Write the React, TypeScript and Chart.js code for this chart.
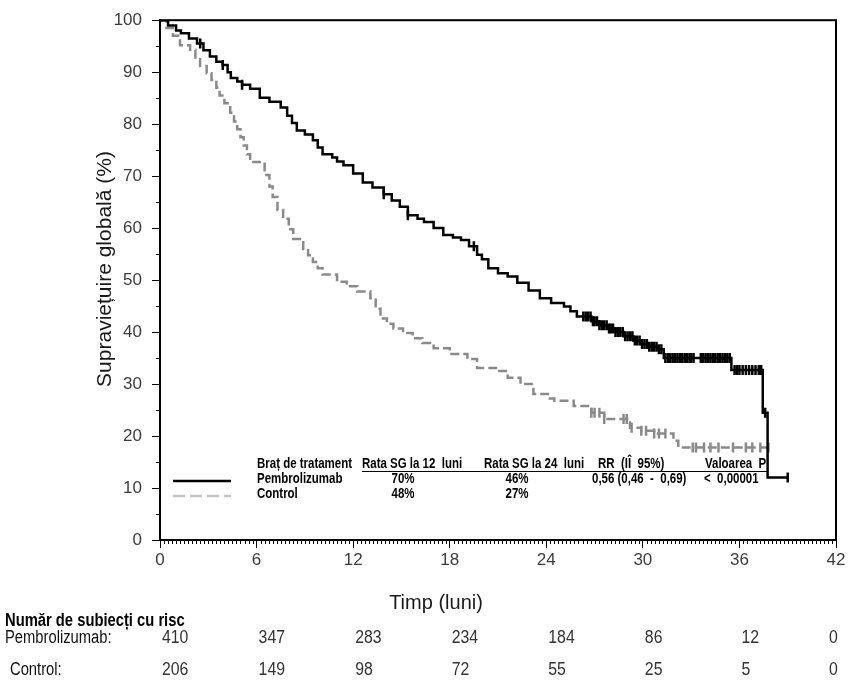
import React, { useEffect, useRef } from "react";
import { Chart, registerables } from "chart.js";

Chart.register(...registerables);

// ---------- DATA ----------
const xTicks = [0, 6, 12, 18, 24, 30, 36, 42];

const pembroTimes = [
  0, 0.5, 1.0, 1.3, 1.8, 2.3, 2.7, 3.1, 3.5, 3.9, 4.2, 4.4, 4.8, 5.1, 5.6, 6.2, 6.8, 7.5, 7.9, 8.2, 8.5,
  9.0, 9.5, 9.8, 10.1, 10.7, 11.0, 11.4, 12.0, 12.6, 13.2, 13.9, 14.4, 14.9, 15.4, 16.0, 16.4, 17.0,
  17.6, 18.2, 18.7, 19.2, 19.7, 20.0, 20.4, 21.0, 21.6, 22.2, 22.9, 23.6, 24.3, 25.1, 25.5, 25.9, 26.8,
  27.3, 27.8, 28.3, 28.8, 29.4, 29.9, 30.4, 30.9, 31.3, 35.5, 37.45, 37.75, 39.0,
];
const pembroSurv = [
  100, 99, 98, 97.5, 96.5, 95.5, 94.2, 93, 92, 91.4, 90, 88.9, 88.2, 87.6, 86.8, 85.1, 84.3, 83.2, 81.6, 80.2, 78.8,
  78, 76.9, 75.5, 74.2, 73.6, 72.8, 72.1, 70.5, 68.8, 67.8, 66.5, 65.3, 64.1, 62.5, 61.8, 61.2, 60,
  58.7, 58.2, 57.7, 56.5, 54.9, 54, 52.3, 51.3, 50.7, 49.5, 48, 46.5, 45.6, 44.9, 44, 43, 42.1,
  41.3, 40.7, 40, 39.2, 38.4, 37.7, 37.2, 36.7, 35.0, 32.7, 24.5, 12, 12,
];

const controlTimes = [
  0, 0.4, 0.8, 1.24, 1.87, 2.2, 2.49, 2.9, 3.2, 3.5, 3.7, 4.0, 4.36, 4.6, 4.8, 5.0, 5.2, 5.4, 5.6, 6.5,
  6.8, 7.0, 7.3, 7.65, 8.0, 8.28, 8.9, 9.2, 9.5, 9.8, 10.1, 11.0, 11.6, 12.26, 13.07, 13.4, 13.7, 14.1,
  14.5, 15.1, 15.7, 16.3, 17.0, 18.0, 19.1, 19.7, 21.0, 21.6, 22.4, 23.2, 24.1, 24.5, 25.7, 26.8, 27.6,
  29.2, 29.9, 30.7, 31.9, 32.2, 38.0,
];
const controlSurv = [
  100, 98.5, 97, 95.2, 94.3, 92.5, 91.2, 89.8, 88.5, 87, 85.5, 84, 82.2, 80.5, 79, 77.5, 75.9, 74.2, 72.7, 70.2,
  68, 66, 63.5, 61.8, 59.8, 57.9, 56, 54.8, 53.5, 52.3, 51.1, 49.7, 48.8, 47.8, 46.5, 44.5, 42.6, 41.6,
  40.7, 39.8, 38.8, 37.9, 36.9, 35.8, 34.8, 33.1, 32.5, 31.2, 30, 28.1, 27.2, 26.8, 25.8, 24.5, 23.3,
  21.6, 21.0, 20.5, 19.1, 17.8, 17.8,
];

const pembroCensorTimes = [
  2.5, 3.9, 5.1, 13.9, 15.4, 19.5,
  26.3, 26.45, 26.6, 26.75, 26.9, 27.0, 27.15, 27.3, 27.45, 27.6, 27.75, 27.9, 28.0, 28.15, 28.3, 28.45,
  28.6, 28.75, 28.9, 29.05, 29.2, 29.35, 29.5, 29.65, 29.8, 29.95, 30.1, 30.25, 30.4, 30.55, 30.7, 30.85,
  31.0, 31.15, 31.4, 31.55, 31.7, 31.85, 32.0, 32.15, 32.3, 32.45, 32.6, 32.75, 32.9, 33.0, 33.15, 33.6,
  33.75, 33.9, 34.05, 34.2, 34.35, 34.5, 34.65, 34.8, 34.95, 35.1, 35.25, 35.4, 35.7, 35.85, 36.0, 36.2,
  36.4, 36.6, 36.8, 37.0, 37.2, 37.35, 37.6, 39.0,
];
const controlCensorTimes = [
  26.8, 27.0, 27.3, 27.6, 28.8, 29.0, 29.3, 29.9, 30.2, 30.7, 31.0, 31.4, 33.1, 33.3, 33.8, 34.2, 34.7,
  35.6, 36.4, 36.8, 37.3, 37.8,
];

const riskPembro = [410, 347, 283, 234, 184, 86, 12, 0];
const riskControl = [206, 149, 98, 72, 55, 25, 5, 0];

const legendHeader = ["Braț de tratament", "Rata SG la 12  luni", "Rata SG la 24  luni", "RR  (IÎ  95%)", "Valoarea  P"];
const legendPembro = ["Pembrolizumab", "70%", "46%", "0,56 (0,46  -  0,69)", "<  0,00001"];
const legendControl = ["Control", "48%", "27%", "", ""];

const riskTitle = "Număr de subiecți cu risc";
const riskLabels = ["Pembrolizumab:", "Control:"];
const yTitle = "Supraviețuire globală (%)";
const xTitle = "Timp (luni)";

// ---------- helpers ----------
function stepAt(times: number[], surv: number[], t: number) {
  let v = surv[0];
  for (let i = 0; i < times.length; i++) {
    if (times[i] <= t) v = surv[i];
  }
  return v;
}
const toPts = (ts: number[], vs: number[]) => ts.map((t, i) => ({ x: t, y: vs[i] }));
const censorPts = (cs: number[], ts: number[], vs: number[]) => cs.map((t) => ({ x: t, y: stepAt(ts, vs, t) }));

const BLACK = "#000000";
const GRAY = "#8a8a8a";
const SANS = '"Liberation Sans", Arial, sans-serif';

function narrowText(
  ctx: CanvasRenderingContext2D,
  text: string,
  x: number,
  y: number,
  align: CanvasTextAlign,
  font: string,
  sx = 0.82
) {
  ctx.save();
  ctx.font = font;
  ctx.textAlign = align;
  ctx.textBaseline = "middle";
  ctx.translate(x, y);
  ctx.scale(sx, 1);
  ctx.fillText(text, 0, 0);
  ctx.restore();
}

const decorPlugin = {
  id: "decor",
  afterDraw(chart: any) {
    const ctx = chart.ctx as CanvasRenderingContext2D;
    const { left, right, top, bottom } = chart.chartArea;
    const xs = chart.scales.x;
    const ys = chart.scales.y;
    ctx.save();

    // frame
    ctx.strokeStyle = "#000";
    ctx.lineWidth = 2;
    ctx.strokeRect(left, top, right - left, bottom - top);

    // minor ticks
    ctx.lineWidth = 1;
    ctx.beginPath();
    for (let k = 1; k < 42 * 4; k++) {
      const v = k / 4;
      if (v % 6 === 0) continue;
      const px = Math.round(xs.getPixelForValue(v)) + 0.5;
      ctx.moveTo(px, bottom);
      ctx.lineTo(px, bottom + 4);
    }
    for (let v = 5; v < 100; v += 10) {
      const py = Math.round(ys.getPixelForValue(v)) + 0.5;
      ctx.moveTo(left, py);
      ctx.lineTo(left - 4, py);
    }
    ctx.stroke();

    // axis titles
    ctx.fillStyle = "#1a1a1a";
    ctx.font = `20px ${SANS}`;
    ctx.textAlign = "center";
    ctx.textBaseline = "middle";
    ctx.fillText(xTitle, 436, 603);
    ctx.save();
    ctx.font = `21px ${SANS}`;
    ctx.translate(105, 269);
    ctx.rotate(-Math.PI / 2);
    ctx.fillText(yTitle, 0, 0);
    ctx.restore();

    // legend table
    ctx.fillStyle = "#000";
    const lf = `bold 14px ${SANS}`;
    const rowY = [464, 479, 494];
    const colX = [257, 362, 484, 598, 705];
    legendHeader.forEach((s, i) => narrowText(ctx, s, colX[i], rowY[0], "left", lf));
    const valX = [257, 403, 517, 592, 704];
    const valAlign: CanvasTextAlign[] = ["left", "center", "center", "left", "left"];
    [legendPembro, legendControl].forEach((row, r) => {
      row.forEach((s, i) => narrowText(ctx, s, valX[i], rowY[r + 1], valAlign[i], lf));
    });
    ctx.strokeStyle = "#000";
    ctx.lineWidth = 1;
    ctx.beginPath();
    ctx.moveTo(362, 471.5);
    ctx.lineTo(767, 471.5);
    ctx.stroke();
    // legend line samples
    ctx.lineWidth = 2.5;
    ctx.strokeStyle = BLACK;
    ctx.beginPath();
    ctx.moveTo(173, 481);
    ctx.lineTo(231, 481);
    ctx.stroke();
    ctx.strokeStyle = "#c4c4c4";
    ctx.setLineDash([12, 5]);
    ctx.beginPath();
    ctx.moveTo(173, 496);
    ctx.lineTo(231, 496);
    ctx.stroke();
    ctx.setLineDash([]);

    // risk table
    ctx.fillStyle = "#000";
    narrowText(ctx, riskTitle, 5, 621, "left", `bold 18px ${SANS}`);
    ctx.fillStyle = "#111";
    narrowText(ctx, riskLabels[0], 5, 638, "left", `18px ${SANS}`);
    narrowText(ctx, riskLabels[1], 10, 670, "left", `18px ${SANS}`);
    ctx.fillStyle = "#333";
    xTicks.forEach((t, i) => {
      const px = Math.min(xs.getPixelForValue(t) + 2, 829);
      narrowText(ctx, String(riskPembro[i]), px, 638, "left", `18px ${SANS}`, 0.88);
      narrowText(ctx, String(riskControl[i]), px, 670, "left", `18px ${SANS}`, 0.88);
    });

    ctx.restore();
  },
};

export default function App() {
  const ref = useRef<HTMLCanvasElement | null>(null);

  useEffect(() => {
    document.body.style.margin = "0";
    if (!ref.current) return;
    const chart = new Chart(ref.current, {
      type: "line",
      data: {
        datasets: [
          {
            label: "Pembrolizumab",
            data: toPts(pembroTimes, pembroSurv),
            borderColor: BLACK,
            borderWidth: 2.5,
            pointRadius: 0,
            stepped: "before",
            fill: false,
          },
          {
            label: "Control",
            data: toPts(controlTimes, controlSurv),
            borderColor: GRAY,
            borderWidth: 2.5,
            borderDash: [9, 4],
            pointRadius: 0,
            stepped: "before",
            fill: false,
          },
          {
            label: "Pembro censored",
            type: "scatter",
            data: censorPts(pembroCensorTimes, pembroTimes, pembroSurv),
            showLine: false,
            pointStyle: "line",
            rotation: 90,
            radius: 5,
            borderColor: BLACK,
            borderWidth: 2.5,
          } as any,
          {
            label: "Control censored",
            type: "scatter",
            data: censorPts(controlCensorTimes, controlTimes, controlSurv),
            showLine: false,
            pointStyle: "line",
            rotation: 90,
            radius: 5,
            borderColor: GRAY,
            borderWidth: 2.5,
          } as any,
        ],
      },
      options: {
        animation: false,
        responsive: true,
        maintainAspectRatio: false,
        layout: { padding: { left: 0, top: 17, right: 23, bottom: 0 } },
        plugins: { legend: { display: false }, tooltip: { enabled: false } },
        scales: {
          x: {
            type: "linear",
            min: 0,
            max: 42,
            afterFit: (s: any) => {
              s.height = 150;
            },
            afterBuildTicks: (s: any) => {
              s.ticks = xTicks.map((v) => ({ value: v }));
            },
            ticks: { color: "#3c3c3c", font: { family: SANS, size: 17 }, padding: 2, maxRotation: 0 },
            grid: { drawOnChartArea: false, drawTicks: true, tickLength: 8, color: "#000", lineWidth: 1 },
            border: { display: true, color: "#000", width: 2 },
          },
          y: {
            min: 0,
            max: 100,
            afterFit: (s: any) => {
              s.width = 160;
            },
            ticks: { stepSize: 10, color: "#3c3c3c", font: { family: SANS, size: 17 }, padding: 10 },
            grid: { drawOnChartArea: false, drawTicks: true, tickLength: 8, color: "#000", lineWidth: 1 },
            border: { display: true, color: "#000", width: 2 },
          },
        },
      },
      plugins: [decorPlugin],
    });
    return () => chart.destroy();
  }, []);

  return (
    <div style={{ width: 859, height: 690, position: "relative", background: "#fff" }}>
      <canvas ref={ref} />
    </div>
  );
}
